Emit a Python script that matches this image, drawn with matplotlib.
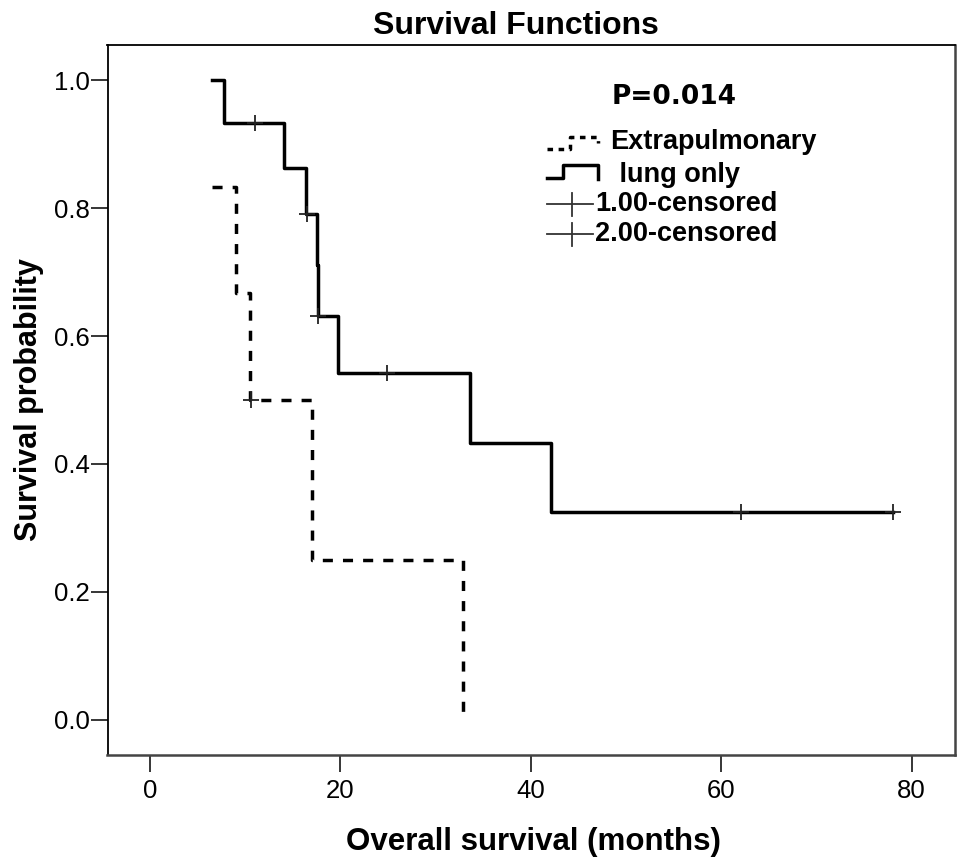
"""Kaplan-Meier style survival chart (SPSS look) rebuilt with matplotlib."""

import numpy as np
import matplotlib
matplotlib.use("Agg")
import matplotlib.pyplot as plt

# ── Data ─────────────────────────────────────────────────────────────
lung_times = [6.5, 7.8, 14.1, 16.4, 17.5, 17.7, 19.7, 33.6, 42.1, 78.0]
lung_surv = [1.0, 0.933, 0.862, 0.790, 0.711, 0.632, 0.542, 0.433, 0.325, 0.325]
lung_censor = [11.0, 16.5, 17.7, 24.9, 62.1, 78.0]

extra_times = [6.5, 9.0, 10.5, 17.0, 32.9]
extra_surv = [0.833, 0.667, 0.5, 0.25, 0.0]
extra_censor = [10.6]

x_ticks = [0, 20, 40, 60, 80]
y_ticks = [0.0, 0.2, 0.4, 0.6, 0.8, 1.0]

legend_labels = ["Extrapulmonary", " lung only", "1.00-censored", "2.00-censored"]
p_text = "P=0.014"

# ── Style ────────────────────────────────────────────────────────────
W, H = 969, 868
FONT = "Liberation Sans"
plt.rcParams["font.family"] = [FONT, "DejaVu Sans"]

DASHES = (0, (2.9, 2.9))
LW = 2.5


def fx(px):
    return px / W


def fy(py):
    return 1 - py / H


def surv_at(times, surv, t):
    idx = np.searchsorted(times, t, side="right") - 1
    return np.asarray(surv)[idx]


fig = plt.figure(figsize=(W / 100, H / 100), dpi=100)
fig.patch.set_facecolor("white")
ax = fig.add_axes([fx(107.5), fy(755), fx(955) - fx(107.5), fy(45) - fy(755)])

# curves
ax.plot(extra_times, extra_surv, drawstyle="steps-post", color="black",
        lw=LW, linestyle=DASHES)
ax.plot(lung_times, lung_surv, drawstyle="steps-post", color="black", lw=LW)

# censor marks
ax.plot(extra_censor, surv_at(extra_times, extra_surv, extra_censor), "+",
        color="#222222", ms=11, mew=1.3)
ax.plot(lung_censor, surv_at(lung_times, lung_surv, lung_censor), "+",
        color="#222222", ms=11, mew=1.3)

ax.set_xlim(-4.46, 84.56)
ax.set_ylim(-0.0547, 1.0547)
ax.set_xticks(x_ticks)
ax.set_xticklabels([str(v) for v in x_ticks])
ax.set_yticks(y_ticks)
ax.set_yticklabels([f"{v:.1f}" for v in y_ticks])
ax.tick_params(axis="x", direction="out", length=12, width=1.1, pad=5,
               labelsize=18.5)
ax.tick_params(axis="y", direction="out", length=12, width=1.1, pad=1,
               labelsize=18.5)
for side in ["left", "top"]:
    ax.spines[side].set_linewidth(1.3)
for side in ["right", "bottom"]:
    ax.spines[side].set_linewidth(1.8)
    ax.spines[side].set_color("#444444")

# titles / labels
fig.text(fx(516), fy(26), "Survival Functions", ha="center", va="center",
         fontsize=23, fontweight="bold")
fig.text(fx(533), fy(842), "Overall survival (months)", ha="center",
         va="center", fontsize=22.5, fontweight="bold")
fig.text(fx(29), fy(400), "Survival probability", ha="center", va="center",
         rotation=90, fontsize=22, fontweight="bold")

# ── Legend (drawn by hand, SPSS layout) ─────────────────────────────
fig.text(fx(612), fy(97), p_text, ha="left", va="center", fontsize=19,
         fontweight="bold", family="DejaVu Sans")

fig.add_artist(plt.Line2D([fx(547), fx(570), fx(570), fx(598), fx(598)],
                          [fy(149), fy(149), fy(137), fy(137), fy(143)],
                          color="black", lw=LW, linestyle=(0, (1.6, 1.6))))
fig.add_artist(plt.Line2D([fx(547), fx(563), fx(563), fx(598), fx(598)],
                          [fy(178), fy(178), fy(165), fy(165), fy(179)],
                          color="black", lw=LW))
for py in [204, 234]:
    fig.add_artist(plt.Line2D([fx(547), fx(593)], [fy(py), fy(py)],
                              color="#333333", lw=1.3))
    fig.add_artist(plt.Line2D([fx(572), fx(572)], [fy(py - 11), fy(py + 12)],
                              color="#333333", lw=1.3))

legend_pos = [(610, 142), (612, 175), (595, 204), (595, 234)]
for label, (px, py) in zip(legend_labels, legend_pos):
    fig.text(fx(px), fy(py), label, ha="left", va="center", fontsize=19.5,
             fontweight="bold")

fig.savefig("out.png", dpi=100, facecolor="white")
